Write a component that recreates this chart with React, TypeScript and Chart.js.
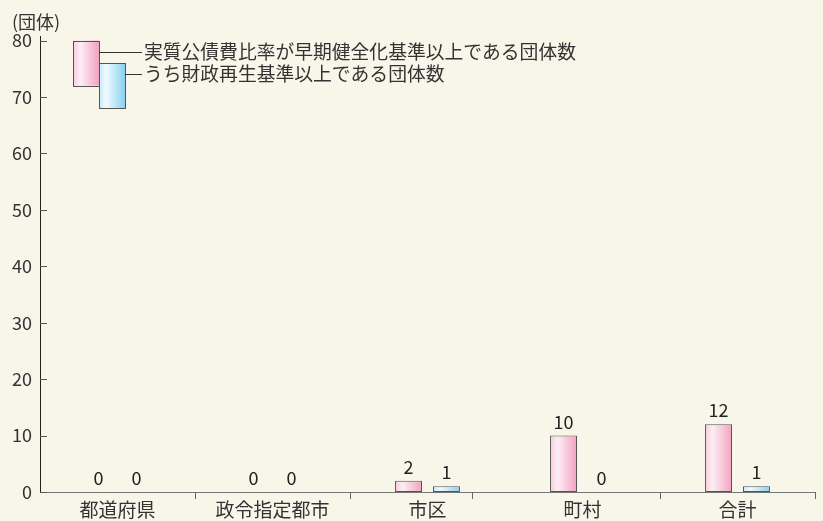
import React, { useEffect, useRef } from "react";
import { Chart, registerables } from "chart.js";

Chart.register(...registerables);

const CATEGORIES = ["都道府県", "政令指定都市", "市区", "町村", "合計"];
const SERIES_LABELS = [
  "実質公債費比率が早期健全化基準以上である団体数",
  "うち財政再生基準以上である団体数",
];
const EARLY_VALUES = [0, 0, 2, 10, 12];
const REBUILD_VALUES = [0, 0, 1, 0, 1];
const Y_TICKS = [0, 10, 20, 30, 40, 50, 60, 70, 80];
const Y_UNIT = "(団体)";
const SEPARATORS = [0.5, 1.5, 2.29, 3.5, 4.5];

const PINK_STOPS: [number, string][] = [
  [0, "#f8cadc"],
  [0.28, "#fdeef4"],
  [1, "#f2a2c0"],
];
const BLUE_STOPS: [number, string][] = [
  [0, "#c6eaf8"],
  [0.28, "#f0faff"],
  [1, "#88d0ef"],
];
const STOPS = [PINK_STOPS, BLUE_STOPS];

const CP = 0.49;
const BP = 0.71;
const FONT = '"Noto Sans CJK JP", "Noto Sans", sans-serif';
const BG = "#f8f5e9";
const TEXT = "#333333";

function grad(ctx: CanvasRenderingContext2D, x0: number, x1: number, stops: [number, string][]) {
  const g = ctx.createLinearGradient(x0, 0, x1, 0);
  stops.forEach(([o, c]) => g.addColorStop(o, c));
  return g;
}

function barBg(datasetIndex: number) {
  return (c: any) => {
    const chart = c.chart;
    const xs = chart.scales && chart.scales.x;
    if (!xs || c.dataIndex === undefined || !isFinite(xs.width)) return STOPS[datasetIndex][2][1];
    const catW = xs.width / CATEGORIES.length;
    const slot = (catW * CP) / 2;
    const center = xs.getPixelForValue(c.dataIndex) + (datasetIndex - 0.5) * slot;
    const w = slot * BP;
    return grad(chart.ctx, center - w / 2, center + w / 2, STOPS[datasetIndex]);
  };
}

const decorPlugin = {
  id: "decor",
  afterDraw(chart: any) {
    const { ctx, chartArea, scales } = chart;
    const xs = scales.x;
    const ys = scales.y;
    ctx.save();

    // inner y tick marks
    ctx.strokeStyle = "#555";
    ctx.lineWidth = 1;
    Y_TICKS.forEach((v) => {
      const y = Math.round(ys.getPixelForValue(v)) + 0.5;
      ctx.beginPath();
      ctx.moveTo(chartArea.left, y);
      ctx.lineTo(chartArea.left + 7, y);
      ctx.stroke();
    });

    // category separators below x axis
    ctx.strokeStyle = "#666";
    SEPARATORS.forEach((v) => {
      const x = Math.round(xs.getPixelForValue(v)) + 0.5;
      ctx.beginPath();
      ctx.moveTo(x, chartArea.bottom);
      ctx.lineTo(x, chartArea.bottom + 7);
      ctx.stroke();
    });

    // value labels
    ctx.fillStyle = "#222";
    ctx.font = `18px ${FONT}`;
    ctx.textAlign = "center";
    ctx.textBaseline = "alphabetic";
    chart.data.datasets.forEach((ds: any, di: number) => {
      const meta = chart.getDatasetMeta(di);
      meta.data.forEach((el: any, i: number) => {
        const v = ds.data[i];
        ctx.fillText(String(v), el.x, ys.getPixelForValue(v) - 7);
      });
    });

    // legend boxes
    const boxW = 26;
    const boxes = [
      { x: chartArea.left + 33, top: 80, bottom: 72 },
      { x: chartArea.left + 33 + boxW, top: 76, bottom: 68 },
    ];
    const textX = 144;
    boxes.forEach((b, i) => {
      const y0 = ys.getPixelForValue(b.top);
      const y1 = ys.getPixelForValue(b.bottom);
      ctx.fillStyle = grad(ctx, b.x, b.x + boxW, STOPS[i]);
      ctx.fillRect(b.x, y0, boxW, y1 - y0);
      ctx.strokeStyle = "#555";
      ctx.strokeRect(Math.round(b.x) + 0.5, Math.round(y0) + 0.5, boxW, Math.round(y1 - y0));
      const ly = Math.round(y0 + 11) + 0.5;
      ctx.strokeStyle = "#333";
      ctx.beginPath();
      ctx.moveTo(b.x + boxW, ly);
      ctx.lineTo(textX - 2, ly);
      ctx.stroke();
      ctx.fillStyle = TEXT;
      ctx.font = `18.8px ${FONT}`;
      ctx.textAlign = "left";
      ctx.textBaseline = "middle";
      ctx.fillText(SERIES_LABELS[i], textX, ly - 1);
    });

    // unit label
    ctx.fillStyle = TEXT;
    ctx.font = `18px ${FONT}`;
    ctx.textAlign = "left";
    ctx.textBaseline = "middle";
    ctx.fillText(Y_UNIT, 12, 22);

    ctx.restore();
  },
};

export default function App() {
  const ref = useRef<HTMLCanvasElement | null>(null);

  useEffect(() => {
    if (!ref.current) return;
    Chart.defaults.font.family = FONT;
    const chart = new Chart(ref.current, {
      type: "bar",
      data: {
        labels: CATEGORIES,
        datasets: [
          {
            label: SERIES_LABELS[0],
            data: EARLY_VALUES,
            backgroundColor: barBg(0),
            borderColor: "#555",
            borderWidth: 1,
            borderSkipped: false,
            categoryPercentage: CP,
            barPercentage: BP,
          },
          {
            label: SERIES_LABELS[1],
            data: REBUILD_VALUES,
            backgroundColor: barBg(1),
            borderColor: "#555",
            borderWidth: 1,
            borderSkipped: false,
            categoryPercentage: CP,
            barPercentage: BP,
          },
        ],
      },
      options: {
        responsive: false,
        animation: false,
        layout: { padding: { top: 36, right: 8, left: 0, bottom: 0 } },
        plugins: {
          legend: { display: false },
          tooltip: { enabled: false },
        },
        scales: {
          x: {
            offset: true,
            grid: { display: false, drawTicks: false },
            border: { display: true, color: "#777", width: 1 },
            ticks: {
              color: TEXT,
              font: { size: 19, family: FONT },
              padding: 6,
              maxRotation: 0,
              autoSkip: false,
            },
            afterFit(scale: any) {
              scale.height = 29;
            },
          },
          y: {
            min: 0,
            max: 80.8,
            grid: { display: false, drawTicks: false },
            border: { display: true, color: "#222", width: 1 },
            ticks: {
              stepSize: 10,
              color: TEXT,
              font: { size: 18, family: FONT },
              padding: 8,
            },
            afterBuildTicks(scale: any) {
              scale.ticks = Y_TICKS.map((v) => ({ value: v }));
            },
            afterFit(scale: any) {
              scale.width = 40;
            },
          },
        },
      },
      plugins: [decorPlugin],
    });
    return () => chart.destroy();
  }, []);

  return (
    <div
      style={{
        position: "fixed",
        left: 0,
        top: 0,
        width: 823,
        height: 521,
        background: BG,
        overflow: "hidden",
      }}
    >
      <canvas ref={ref} width={823} height={521} style={{ display: "block", width: 823, height: 521 }} />
    </div>
  );
}
